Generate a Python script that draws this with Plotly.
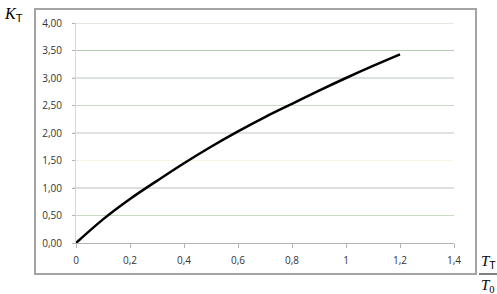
import plotly.graph_objects as go

# data
ratio_x = [0, 0.1, 0.2, 0.3, 0.4, 0.5, 0.6, 0.7, 0.8, 0.9, 1.0, 1.1, 1.2]
k_t = [0, 0.43, 0.80, 1.13, 1.45, 1.75, 2.03, 2.29, 2.53, 2.77, 3.00, 3.22, 3.43]
y_ticks = [0, 0.5, 1.0, 1.5, 2.0, 2.5, 3.0, 3.5, 4.0]
x_ticks = [0, 0.2, 0.4, 0.6, 0.8, 1.0, 1.2, 1.4]

W, H = 497, 294
L, R, T, B = 76, 43, 23, 51
pw, ph = W - L - R, H - T - B

def px(xpix):
    return (xpix - L) / pw

def py(ypix):
    return (H - B - ypix) / ph

fig = go.Figure()
fig.add_trace(go.Scatter(x=ratio_x, y=k_t, mode="lines",
                         line=dict(color="black", width=2.5, shape="spline", smoothing=1.0),
                         showlegend=False, hoverinfo="skip"))

grid_colors = ["rgba(0,0,0,0)", "#c6dcc0", "#bdbdbd", "#fbf6e4", "#c4c4bc",
               "#c6dcc0", "#bcc8bc", "#b6ccb0", "#c8d4c0"]
shapes = []
for yv, c in zip(y_ticks, grid_colors):
    if yv == 0:
        continue
    shapes.append(dict(type="line", xref="paper", yref="y", x0=-0.008, x1=1.0,
                       y0=yv, y1=yv, line=dict(color=c, width=1.2), layer="below"))
# outer border
shapes.append(dict(type="rect", xref="paper", yref="paper",
                   x0=px(35), x1=px(476), y0=py(274), y1=py(9),
                   line=dict(color="#a4a4a4", width=2), layer="below"))
# fraction bar for x-axis label
shapes.append(dict(type="line", xref="paper", yref="paper",
                   x0=px(479), x1=px(497), y0=py(274), y1=py(274),
                   line=dict(color="black", width=1)))

annotations = [
    dict(xref="paper", yref="paper", x=px(13), y=py(15), xanchor="center", yanchor="middle",
         showarrow=False,
         text="<i>K</i><sub><span style='font-family:Liberation Sans'>T</span></sub>",
         font=dict(family="Liberation Serif", size=16, color="black")),
    dict(xref="paper", yref="paper", x=px(488), y=py(262), xanchor="center", yanchor="middle",
         showarrow=False,
         text="<i>T</i><sub><span style='font-family:Liberation Sans'>T</span></sub>",
         font=dict(family="Liberation Serif", size=15, color="black")),
    dict(xref="paper", yref="paper", x=px(488), y=py(286), xanchor="center", yanchor="middle",
         showarrow=False,
         text="<i>T</i><sub>0</sub>",
         font=dict(family="Liberation Serif", size=15, color="black")),
]

fig.update_layout(
    width=W, height=H,
    margin=dict(l=L, r=R, t=T, b=B, pad=0),
    paper_bgcolor="white", plot_bgcolor="white",
    separators=", ",
    font=dict(family="Open Sans", size=10, color="#333333"),
    shapes=shapes, annotations=annotations,
    xaxis=dict(range=[0, 1.4], tickvals=x_ticks, showgrid=False, zeroline=False,
               showline=True, linecolor="#b4b4b4", linewidth=1.2,
               ticks="outside", ticklen=4, tickcolor="#b4b4b4", tickwidth=1,
               ticklabelstandoff=4, fixedrange=True),
    yaxis=dict(range=[0, 4], tickvals=y_ticks, tickformat=".2f", showgrid=False,
               zeroline=False, showline=True, linecolor="#cfe0c8", linewidth=1,
               ticks="outside", ticklen=3, tickcolor="#b4b4b4",
               ticklabelstandoff=8, fixedrange=True),
)

fig.write_html("out.html")
